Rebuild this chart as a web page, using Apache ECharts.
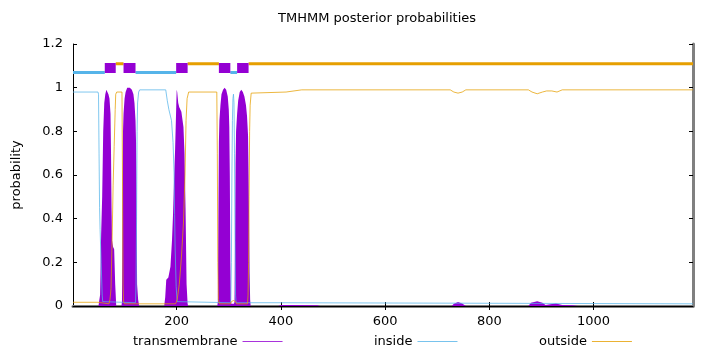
<!DOCTYPE html>
<html>
<head>
<meta charset="utf-8">
<script src="https://cdn.jsdelivr.net/npm/echarts@6/dist/echarts.min.js"></script>
<style>html,body{margin:0;padding:0;background:#fff}#c{width:720px;height:352px}</style>
</head>
<body>
<div id="c"></div>
<script>
// ---- data ----
var seqLength = 1191;
var xTicks = [200, 400, 600, 800, 1000];
var seriesNames = ['transmembrane', 'inside', 'outside'];

// posterior probability of transmembrane (position, probability)
var tmPost = [[1,0],[50,0],[51,0.02],[53,0.05],[55,0.33],[57,0.5],[59,0.8],[61,0.93],[63,0.97],[65,0.99],[67,0.99],[69,0.97],[71,0.95],[73,0.88],[74,0.7],[75,0.45],[76,0.3],[78,0.27],[80,0.26],[82,0.1],[84,0],
  [94,0],[95,0.02],[96,0.5],[97,0.8],[98,0.88],[100,0.95],[102,0.98],[105,1.0],[110,1.0],[114,0.99],[117,0.97],[119,0.93],[121,0.85],[122,0.75],[123,0.5],[124,0.1],[126,0.03],[128,0],
  [176,0],[178,0.04],[180,0.12],[184,0.13],[188,0.18],[191,0.3],[193,0.42],[195,0.58],[197,0.72],[199,0.9],[200,0.99],[201,0.98],[203,0.93],[205,0.91],[209,0.89],[213,0.82],[215,0.7],[217,0.45],[219,0.1],[221,0.01],[222,0],
  [278,0],[279,0.02],[280,0.4],[281,0.75],[282,0.85],[284,0.92],[286,0.97],[289,0.99],[292,1.0],[295,0.99],[298,0.96],[300,0.9],[301,0.82],[302,0.6],[303,0.2],[304,0.03],[305,0.01],[310,0.01],
  [311,0.02],[312,0.3],[313,0.65],[314,0.8],[316,0.88],[318,0.94],[321,0.98],[324,0.99],[327,0.98],[330,0.96],[333,0.92],[335,0.87],[337,0.78],[338,0.6],[339,0.4],[340,0.15],[341,0.03],[342,0],
  [395,0],[400,0.005],[420,0.005],[470,0.004],[475,0],[728,0],[732,0.01],[740,0.018],[748,0.012],[755,0],
  [875,0],[880,0.015],[892,0.022],[902,0.015],[908,0.005],[917,0.008],[928,0.012],[940,0.005],[960,0.003],[970,0],[1191,0]];

// posterior probability of inside
var insidePost = [[1,0.98],[49,0.98],[50,0.97],[51,0.7],[52,0.45],[53,0.35],[55,0.2],[57,0.05],[58,0.02],[60,0.015],[121,0.015],[122,0.1],[123,0.4],[124,0.8],[125,0.93],[127,0.98],[129,0.99],
  [179,0.99],[182,0.94],[185,0.9],[188,0.87],[190,0.85],[193,0.75],[195,0.61],[196,0.42],[197,0.27],[199,0.09],[201,0.02],[203,0.015],
  [303,0.015],[304,0.03],[305,0.2],[306,0.6],[307,0.85],[308,0.95],[309,0.97],[310,0.93],[311,0.7],[312,0.3],[313,0.05],[314,0.015],[400,0.015],[402,0.01],[1191,0.01]];

// posterior probability of outside
var outsidePost = [[1,0.017],[49,0.017],[51,0.01],[70,0.01],[72,0.03],[74,0.08],[76,0.3],[78,0.55],[80,0.73],[82,0.9],[83,0.97],[85,0.98],[95,0.98],[96,0.6],[97,0.1],[98,0.02],[100,0.01],
  [198,0.01],[201,0.03],[205,0.1],[209,0.22],[213,0.38],[216,0.6],[218,0.85],[220,0.95],[223,0.98],[277,0.98],[278,0.7],[279,0.2],[280,0.03],[282,0.01],
  [303,0.01],[305,0.02],[309,0.025],[313,0.02],[315,0.01],[336,0.01],[337,0.05],[338,0.2],[339,0.5],[340,0.8],[341,0.92],[343,0.975],
  [410,0.98],[440,0.99],[725,0.99],[732,0.98],[740,0.975],[748,0.98],[755,0.99],[875,0.99],[882,0.98],[892,0.972],[902,0.98],[910,0.985],[920,0.985],[930,0.98],[940,0.99],[1191,0.99]];

// predicted topology: segment boundaries and labels
var topoBounds = [1, 62, 83, 98, 121, 199, 221, 281, 303, 316, 338, 1191];
var topoLabels = ['inside','TM','outside','TM','inside','TM','outside','TM','inside','TM','outside'];
var topoLevel = {inside: 1.07, TM: 1.09, outside: 1.11};

// ---- build ----
var C_TM = '#9400D3', C_IN = '#56B4E9', C_OUT = '#E69F00';
function topoData(kind) {
  var d = [];
  for (var i = 0; i < topoLabels.length; i++) {
    if (topoLabels[i] !== kind) continue;
    d.push([topoBounds[i], topoLevel[kind]]);
    d.push([topoBounds[i + 1], topoLevel[kind]]);
    d.push([topoBounds[i + 1], '-']);
  }
  return d;
}
var FONT = 'DejaVu Sans';
var chart = echarts.init(document.getElementById('c'), null, {renderer: 'canvas'});
function legendAt(name, left, color) {
  return {
    data: [{name: name, icon: 'rect', itemStyle: {color: color, opacity: 0.8}}],
    left: left, top: 335, padding: 0, align: 'right',
    itemWidth: 40, itemHeight: 1, itemGap: 0,
    textStyle: {fontFamily: FONT, fontSize: 13, color: '#000'}
  };
}
chart.setOption({
  animation: false,
  backgroundColor: '#fff',
  title: {
    text: 'TMHMM posterior probabilities', left: 278, top: 12, padding: 0,
    textStyle: {fontFamily: FONT, fontSize: 13, fontWeight: 'normal', color: '#000'}
  },
  legend: [legendAt(seriesNames[0], 133, C_TM), legendAt(seriesNames[1], 374, C_IN), legendAt(seriesNames[2], 539, C_OUT)],
  grid: {left: 73, right: 27, top: 44, bottom: 46},
  xAxis: [{
    type: 'value', min: 1, max: seqLength, position: 'bottom',
    axisLine: {lineStyle: {color: '#808080', width: 3}},
    axisTick: {inside: true, length: 4, customValues: xTicks, lineStyle: {color: '#000'}},
    axisLabel: {customValues: xTicks, margin: 9, color: '#000', fontFamily: FONT, fontSize: 13,
      formatter: function (v) { return String(v); }},
    splitLine: {show: false}
  }, {
    type: 'value', min: 1, max: seqLength, position: 'top',
    axisLine: {lineStyle: {color: '#000', width: 1}},
    axisTick: {inside: true, length: 4, customValues: xTicks, lineStyle: {color: '#000'}},
    axisLabel: {show: false}, splitLine: {show: false}
  }],
  yAxis: [{
    type: 'value', min: 0, max: 1.2, interval: 0.2, position: 'left',
    name: 'probability', nameLocation: 'middle', nameGap: 50, nameRotate: 90,
    nameTextStyle: {fontFamily: FONT, fontSize: 13, color: '#000'},
    axisLine: {show: true, lineStyle: {color: '#000', width: 1}},
    axisTick: {show: true, inside: true, length: 4, lineStyle: {color: '#000'}},
    axisLabel: {margin: 10, color: '#000', fontFamily: FONT, fontSize: 13},
    splitLine: {show: false}
  }, {
    type: 'value', min: 0, max: 1.2, interval: 0.2, position: 'right',
    axisLine: {show: true, lineStyle: {color: '#808080', width: 3}},
    axisTick: {show: true, inside: true, length: 4, lineStyle: {color: '#000'}},
    axisLabel: {show: false}, splitLine: {show: false}
  }],
  series: [{
    name: seriesNames[0], type: 'line', data: tmPost, symbol: 'none', z: 2,
    color: C_TM, lineStyle: {color: C_TM, width: 0, opacity: 0}, areaStyle: {color: C_TM, opacity: 1}
  }, {
    name: seriesNames[1], type: 'line', data: insidePost, symbol: 'none', z: 3,
    color: C_IN, lineStyle: {color: C_IN, width: 1, opacity: 0.75}
  }, {
    name: seriesNames[2], type: 'line', data: outsidePost, symbol: 'none', z: 3,
    color: C_OUT, lineStyle: {color: C_OUT, width: 1, opacity: 0.75}
  }, {
    type: 'line', data: topoData('inside'), symbol: 'none', z: 4, connectNulls: false,
    lineStyle: {color: C_IN, width: 3, cap: 'butt'}
  }, {
    type: 'line', data: topoData('outside'), symbol: 'none', z: 4, connectNulls: false,
    lineStyle: {color: C_OUT, width: 3, cap: 'butt'}
  }, {
    type: 'line', data: topoData('TM'), symbol: 'none', z: 5, connectNulls: false,
    lineStyle: {color: C_TM, width: 10, cap: 'butt'}
  }]
});
</script>
</body>
</html>
